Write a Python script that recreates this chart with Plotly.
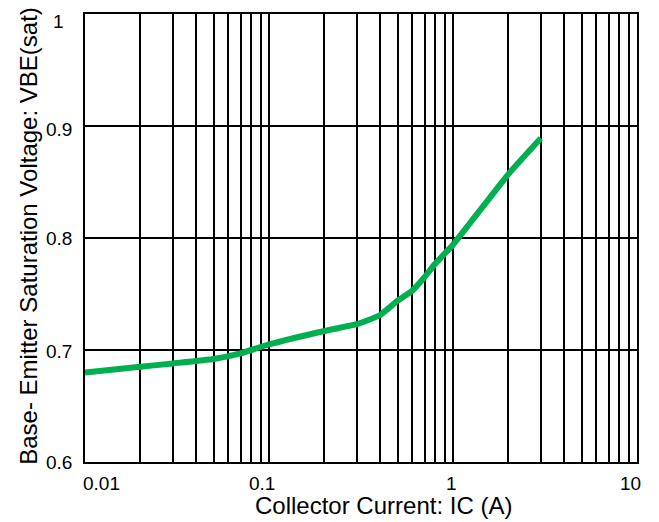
import math
import plotly.graph_objects as go

# Collector current (A) and base-emitter saturation voltage (V)
ic = [0.01, 0.02, 0.03, 0.05, 0.07, 0.1, 0.2, 0.3, 0.4, 0.5, 0.6, 0.7, 0.8, 1.0, 2.0, 3.0]
vbe_sat = [0.680, 0.685, 0.688, 0.692, 0.697, 0.705, 0.717, 0.723, 0.731, 0.744, 0.753,
           0.765, 0.777, 0.794, 0.857, 0.889]

x_tick_values = [0.01, 0.1, 1, 10]
x_tick_labels = ["0.01", "0.1", "1", "10"]
y_tick_values = [0.6, 0.7, 0.8, 0.9, 1.0]
y_tick_labels = ["0.6", "0.7", "0.8", "0.9", "1"]

FONT = "Liberation Sans, Arial, sans-serif"
GREEN = "#00B050"

# log grid: every integer multiple within each decade
grid_x = [m * 10 ** d for d in (-2, -1, 0) for m in range(1, 10)] + [10]

fig = go.Figure()
fig.add_trace(go.Scatter(
    x=ic, y=vbe_sat, mode="lines",
    line=dict(color=GREEN, width=6, shape="spline", smoothing=0.4),
    hoverinfo="skip", showlegend=False,
))

fig.update_layout(
    width=659, height=522,
    margin=dict(l=85, r=22, t=12, b=60),
    paper_bgcolor="white", plot_bgcolor="white",
    font=dict(family=FONT, color="black"),
    xaxis=dict(
        type="log", range=[-2, 1],
        tickvals=grid_x, showticklabels=False, ticks="",
        showgrid=True, gridcolor="black", gridwidth=1.7,
        showline=True, linecolor="black", linewidth=2, mirror=True,
        zeroline=False,
    ),
    yaxis=dict(
        range=[0.6, 1.0], tickvals=y_tick_values, showticklabels=False, ticks="",
        showgrid=True, gridcolor="black", gridwidth=1.7,
        showline=True, linecolor="black", linewidth=2, mirror=True,
        zeroline=False,
    ),
)

annotations = []
x_shifts = [16, -7, -2, -7]
for v, t, s in zip(x_tick_values, x_tick_labels, x_shifts):
    annotations.append(dict(
        x=math.log10(v), y=0, xref="x", yref="paper", text=t, showarrow=False,
        xanchor="center", yanchor="middle", xshift=s, yshift=-21,
        font=dict(size=19, family=FONT, color="black"),
    ))
y_shifts = [0, -1, 0, -3, -7]
for v, t, s in zip(y_tick_values, y_tick_labels, y_shifts):
    annotations.append(dict(
        x=0, y=v, xref="paper", yref="y", text=t, showarrow=False,
        xanchor="center", yanchor="middle", xshift=-26.5, yshift=s,
        font=dict(size=19, family=FONT, color="black"),
    ))
annotations.append(dict(
    x=(383.5 - 85) / 552, y=0, xref="paper", yref="paper",
    text="Collector Current: IC (A)", showarrow=False,
    xanchor="center", yanchor="middle", yshift=-43,
    font=dict(size=24, family=FONT, color="black"),
))
annotations.append(dict(
    x=0, y=0.505, xref="paper", yref="paper",
    text="Base- Emitter Saturation Voltage: VBE(sat)", showarrow=False,
    textangle=-90, xanchor="center", yanchor="middle", xshift=-56,
    font=dict(size=24, family=FONT, color="black"),
))
fig.update_layout(annotations=annotations)

fig.write_html("out.html")
